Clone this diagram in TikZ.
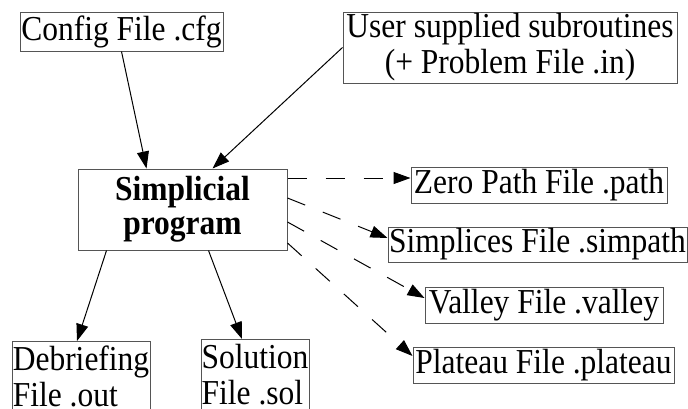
\documentclass[tikz,border=0pt]{standalone}
\usepackage{fontspec}
\setmainfont[FakeStretch=0.9]{Liberation Serif}
\usetikzlibrary{arrows.meta,positioning,calc}
\definecolor{boxgray}{HTML}{555555}

\begin{document}
\begin{tikzpicture}[x=0.5pt,y=-0.5pt,
  file/.style={draw=boxgray,line width=0.5pt,inner sep=0pt,
    font=\fontsize{17.5}{18}\selectfont},
  flow/.style={-{Triangle[length=8.5pt,width=6pt]},black,line width=0.5pt},
  outflow/.style={flow,dash pattern=on 9.5pt off 9.5pt}]
  \clip(0,0)rectangle(688,408);
  % entradas
  \node[file,minimum width=101.5pt,minimum height=19.5pt](cfg)at(121.5,31.5){Config File .cfg};
  \node[file,align=center,minimum width=167pt,minimum height=35.5pt](user)at(510,47.5)
    {User supplied subroutines\\(+ Problem File .in)};
  % programa
  \node[file,align=center,minimum width=104.5pt,minimum height=40.5pt,
        font=\fontsize{17.5}{17}\selectfont\bfseries](sim)at(182.5,209.5){Simplicial\\program};
  % salidas
  \node[file,align=left,anchor=north,minimum width=69pt,minimum height=35pt](deb)at(81,341)
    {Debriefing\\File .out};
  \node[file,align=left,anchor=north,minimum width=54pt,minimum height=35pt](sol)at(255,339)
    {Solution\\File .sol};
  \node[file,minimum width=128pt,minimum height=18pt](path)at(539,185){Zero Path File .path};
  \node[file,minimum width=149.5pt,minimum height=17.5pt](simp)at(537.5,244.5){Simplices File .simpath};
  \node[file,minimum width=119pt,minimum height=18pt](val)at(544,305){Valley File .valley};
  \node[file,minimum width=130.5pt,minimum height=18pt](plat)at(543.5,365){Plateau File .plateau};
  % flechas
  \draw[flow](cfg.south)--([xshift=-18pt]sim.north);
  \draw[flow](user.west)--([xshift=15pt]sim.north);
  \draw[flow]([xshift=-38pt]sim.south)--([xshift=-2pt]deb.north);
  \draw[flow]([xshift=13pt]sim.south)--([xshift=-6.5pt]sol.north);
  \draw[outflow]([yshift=15.75pt]sim.east)--([yshift=3.5pt]path.west);
  \draw[outflow]([yshift=5.75pt]sim.east)--([yshift=3.25pt]simp.west);
  \draw[outflow]([yshift=-6.25pt]sim.east)--([yshift=3.5pt]val.west);
  \draw[outflow]([yshift=-16.75pt]sim.east)--([yshift=4.5pt]plat.west);
\end{tikzpicture}
\end{document}
